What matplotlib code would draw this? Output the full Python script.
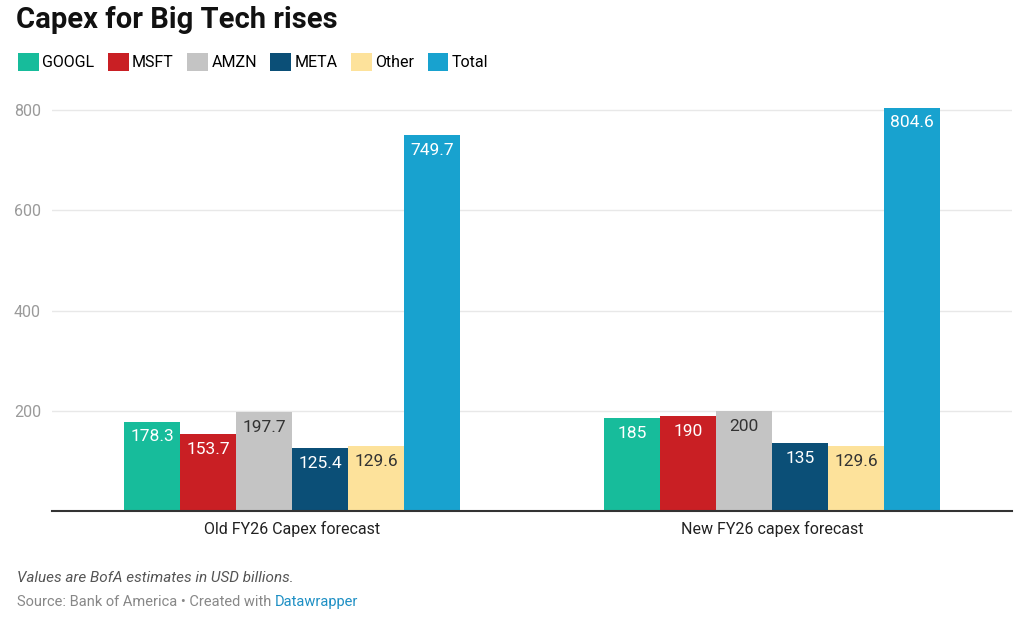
import numpy as np
import matplotlib
matplotlib.use("Agg")
import matplotlib.pyplot as plt
from matplotlib.patches import Patch

plt.rcParams.update({
    "font.family": ["Roboto", "DejaVu Sans"],
    "font.size": 11,
})

groups = ["Old FY26 Capex forecast", "New FY26 capex forecast"]
series = ["GOOGL", "MSFT", "AMZN", "META", "Other", "Total"]
old_vals = [178.3, 153.7, 197.7, 125.4, 129.6, 749.7]
new_vals = [185, 190, 200, 135, 129.6, 804.6]
yticks = [200, 400, 600, 800]

colors = ["#17bc9b", "#c91f24", "#c4c4c4", "#0b4f77", "#fde29b", "#18a2cf"]
label_colors = ["white", "white", "#333333", "white", "#333333", "white"]

fig = plt.figure(figsize=(10.24, 6.21), dpi=100)
ax = fig.add_axes([52 / 1024, 1 - 511 / 621, 960 / 1024, 406 / 621])

x = np.arange(len(groups))
width = 56 / 480
values = np.array([old_vals, new_vals])

for i, name in enumerate(series):
    pos = x + (i - 2.5) * width
    bars = ax.bar(pos, values[:, i], width=width, color=colors[i], zorder=3)
    for b, v in zip(bars, values[:, i]):
        ax.annotate(f"{v:g}", (b.get_x() + b.get_width() / 2, v),
                    xytext=(0, -11), textcoords="offset points",
                    ha="center", va="center", fontsize=12.5,
                    color=label_colors[i], zorder=4)

ax.set_xlim(-0.5, 1.5)
ax.set_ylim(0, 810)
ax.set_yticks(yticks)
ax.set_yticklabels([str(t) for t in yticks], color="#9a9a9a", fontsize=11.5)
ax.grid(axis="y", color="#e8e8e8", linewidth=1, zorder=0)
ax.set_xticks(x)
ax.set_xticklabels(groups, fontsize=11.5, color="#222222")
ax.tick_params(axis="both", length=0)
ax.tick_params(axis="y", pad=8)
ax.tick_params(axis="x", pad=7)
for s in ["top", "right", "left"]:
    ax.spines[s].set_visible(False)
ax.spines["bottom"].set_color("#333333")
ax.spines["bottom"].set_linewidth(1.5)
ax.spines["bottom"].set_zorder(5)

fig.text(16 / 1024, 1 - 20 / 621, "Capex for Big Tech rises", fontsize=21,
         fontweight="bold", va="center", ha="left", color="#111111")

handles = [Patch(facecolor=c, edgecolor="none", label=s) for s, c in zip(series, colors)]
fig.legend(handles=handles, loc="center left", bbox_to_anchor=(12 / 1024, 1 - 62 / 621),
           ncol=6, frameon=False, handlelength=1.3, handleheight=1.3,
           handletextpad=0.2, columnspacing=0.85, fontsize=11.5, borderaxespad=0)

fig.text(17 / 1024, 1 - 578 / 621, "Values are BofA estimates in USD billions.",
         fontsize=11, style="italic", color="#555555", va="center", ha="left")

t1 = fig.text(17 / 1024, 1 - 602 / 621, "Source: Bank of America \u2022 Created with ",
              fontsize=10.5, color="#888888", va="center", ha="left")
fig.canvas.draw()
bb = t1.get_window_extent()
fig.text(bb.x1 / fig.bbox.width, 1 - 602 / 621, "Datawrapper",
         fontsize=10.5, color="#1d8fc4", va="center", ha="left")

fig.savefig("out.png", dpi=100, facecolor="white")
